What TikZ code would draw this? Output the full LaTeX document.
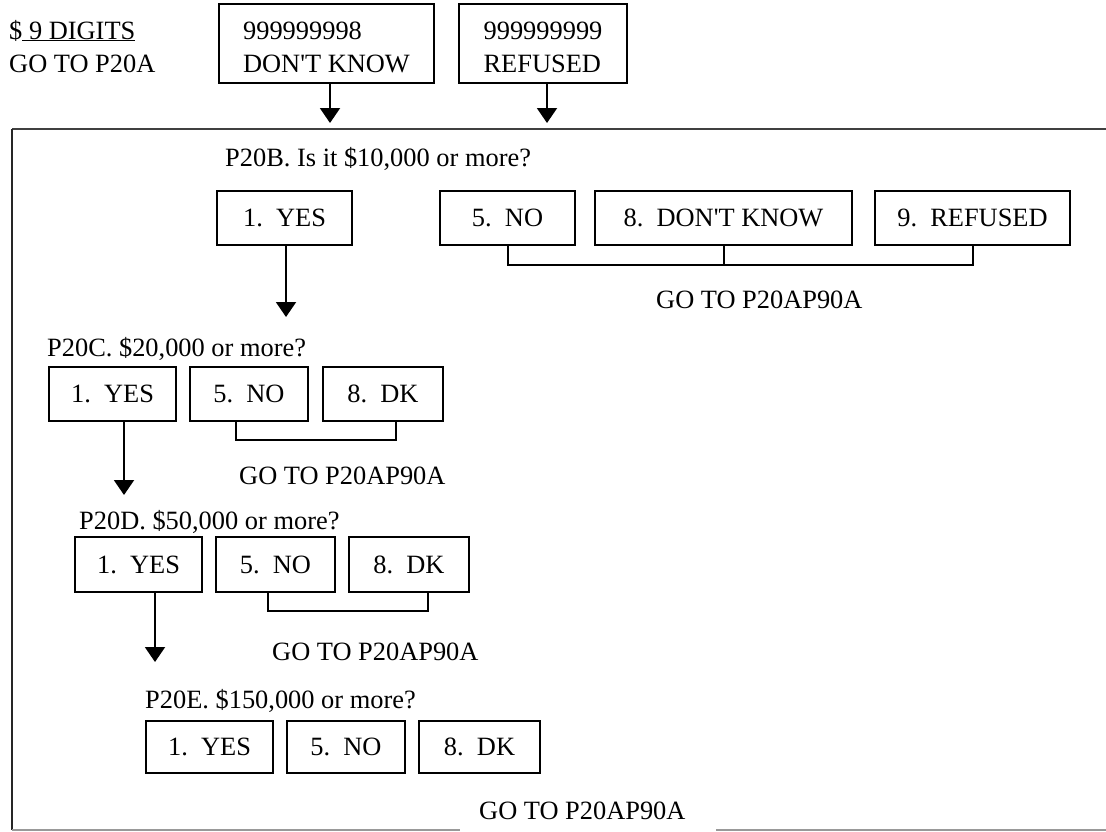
\documentclass[tikz,border=0pt]{standalone}
\usepackage{fontspec}
\setmainfont{Liberation Serif}
\usetikzlibrary{arrows.meta}
\frenchspacing
\begin{document}
\begin{tikzpicture}[x=1pt,y=-1pt,
  font=\fontsize{26.4}{33}\selectfont,
  box/.style={draw, line width=2.2pt, inner sep=0pt, text height=17.5pt, text depth=0pt},
  topbox/.style={draw, line width=2.2pt, align=left, inner ysep=0pt},
  lbl/.style={anchor=base west, inner sep=0pt},
  arr/.style={line width=2pt, -{Triangle[width=20pt,length=15pt]}},
  brk/.style={line width=2pt},
  frametop/.style={line width=2pt, black!75},
  frameleft/.style={line width=2pt, black!85},
  framebot/.style={line width=2pt, black!40}]
\useasboundingbox (0,0) rectangle (1106,831);

% header
\node[lbl] (digits) at (9,39) {\$\underline{\ 9 DIGITS}};
\node[lbl] (goa) at (9,72) {GO TO P20A};
\node[topbox, minimum width=215pt, minimum height=79pt, inner xsep=22pt] (dktop) at (326.5,43.5) {\rule{0pt}{25pt}999999998\\DON\textquotesingle T KNOW};
\node[topbox, minimum width=168pt, minimum height=79pt, inner xsep=21pt] (reftop) at (543,43.5) {\rule{0pt}{25pt}999999999\\REFUSED};

% frame
\coordinate (ftl) at (12,129);
\coordinate (ftr) at (1106,129);
\coordinate (fbl) at (12,830);
\coordinate (fb1) at (460,830);
\coordinate (fb2) at (716,830);
\coordinate (fbr) at (1106,830);
\draw[frametop] (ftl) -- (ftr);
\draw[frameleft] (ftl) -- (fbl);
\draw[framebot] (fbl) -- (fb1);
\draw[framebot] (fb2) -- (fbr);

\coordinate (t1) at (330,123);
\coordinate (t2) at (547,123);
\draw[arr] (dktop.south -| t1) -- (t1);
\draw[arr] (reftop.south -| t2) -- (t2);

% P20B
\node[lbl] (qb) at (225,166) {P20B. Is it \$10,000 or more?};
\node[box, minimum width=135pt, minimum height=54pt] (byes) at (284.5,218) {1.\ \ YES};
\node[box, minimum width=135pt, minimum height=54pt] (bno) at (507.5,218) {5.\ \ NO};
\node[box, minimum width=257pt, minimum height=54pt] (bdk) at (723.5,218) {8.\ \ DON\textquotesingle T KNOW};
\node[box, minimum width=195pt, minimum height=54pt] (bref) at (972.5,218) {9.\ \ REFUSED};
\draw[brk] (bno.south) -- ++(0,19) -| (bref.south);
\draw[brk] (bdk.south) -- ++(0,19);
\node[lbl] (bgo) at (656,308) {GO TO P20AP90A};
\coordinate (t3) at (286,317);
\draw[arr] (byes.south -| t3) -- (t3);

% P20C
\node[lbl] (qc) at (47,356) {P20C. \$20,000 or more?};
\node[box, minimum width=127pt, minimum height=54pt] (cyes) at (112.5,394) {1.\ \ YES};
\node[box, minimum width=118pt, minimum height=54pt] (cno) at (249,394) {5.\ \ NO};
\node[box, minimum width=120pt, minimum height=54pt] (cdk) at (383,394) {8.\ \ DK};
\draw[brk] ([xshift=-13pt]cno.south) -- ++(0,18) -| ([xshift=13pt]cdk.south);
\node[lbl] (cgo) at (239,484) {GO TO P20AP90A};
\coordinate (t4) at (124,495);
\draw[arr] (cyes.south -| t4) -- (t4);

% P20D
\node[lbl] (qd) at (79,529) {P20D. \$50,000 or more?};
\node[box, minimum width=127pt, minimum height=55pt] (dyes) at (138.5,564.5) {1.\ \ YES};
\node[box, minimum width=119pt, minimum height=55pt] (dno) at (275.5,564.5) {5.\ \ NO};
\node[box, minimum width=120pt, minimum height=55pt] (ddk) at (409,564.5) {8.\ \ DK};
\draw[brk] ([xshift=-7.5pt]dno.south) -- ++(0,18) -| ([xshift=19pt]ddk.south);
\node[lbl] (dgo) at (272,660) {GO TO P20AP90A};
\coordinate (t5) at (155,662);
\draw[arr] (dyes.south -| t5) -- (t5);

% P20E
\node[lbl] (qe) at (145,708) {P20E. \$150,000 or more?};
\node[box, minimum width=127pt, minimum height=52pt] (eyes) at (209.5,747) {1.\ \ YES};
\node[box, minimum width=118pt, minimum height=52pt] (eno) at (346,747) {5.\ \ NO};
\node[box, minimum width=121pt, minimum height=52pt] (edk) at (479.5,747) {8.\ \ DK};
\node[lbl] (ego) at (479,819) {GO TO P20AP90A};
\end{tikzpicture}
\end{document}
